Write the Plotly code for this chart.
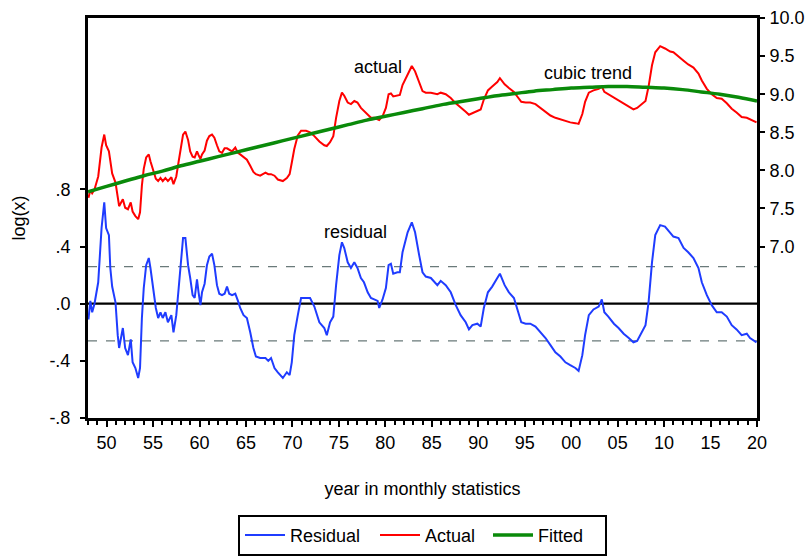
import plotly.graph_objects as go

# Monthly sample, plotted against decimal year
dates = [
    1948.05, 1948.25, 1948.45, 1948.7, 1949.1, 1949.46, 1949.75, 1949.95, 1950.25, 1950.4,
    1950.6, 1950.96, 1951.2, 1951.35, 1951.75, 1952.0, 1952.3, 1952.6, 1952.8, 1953.1,
    1953.4, 1953.6, 1953.8, 1954.0, 1954.26, 1954.54, 1954.72, 1955.07, 1955.3, 1955.55,
    1955.8, 1956.04, 1956.33, 1956.6, 1956.97, 1957.2, 1957.5, 1957.76, 1958.0, 1958.23,
    1958.48, 1958.77, 1959.0, 1959.26, 1959.48, 1959.73, 1959.9, 1960.1, 1960.27, 1960.55,
    1960.8, 1961.06, 1961.35, 1961.6, 1961.88, 1962.13, 1962.42, 1962.7, 1962.96, 1963.2,
    1963.5, 1963.85, 1964.14, 1964.38, 1964.74, 1965.1, 1965.46, 1965.8, 1966.07, 1966.53,
    1967.1, 1967.4, 1967.7, 1968.07, 1968.43, 1968.97, 1969.4, 1969.7, 1969.93, 1970.2,
    1970.58, 1970.93, 1971.47, 1971.9, 1972.36, 1972.9, 1973.43, 1973.7, 1974.05, 1974.4,
    1974.7, 1975.05, 1975.33, 1975.58, 1975.95, 1976.3, 1976.66, 1977.0, 1977.37, 1977.7,
    1978.1, 1978.45, 1978.8, 1979.17, 1979.34, 1979.7, 1980.06, 1980.35, 1980.6, 1980.85,
    1981.3, 1981.56, 1981.85, 1982.4, 1982.85, 1983.2, 1983.64, 1984.0, 1984.35, 1984.9,
    1985.6, 1985.96, 1986.5, 1987.04, 1987.58, 1988.1, 1988.65, 1989.0, 1989.37, 1989.9,
    1990.26, 1990.6, 1991.04, 1991.5, 1992.05, 1992.33, 1992.84, 1993.3, 1993.84, 1994.2,
    1994.63, 1995.1, 1995.6, 1996.16, 1996.7, 1997.24, 1997.77, 1998.3, 1998.84, 1999.38,
    1999.9, 2000.45, 2000.8, 2001.2, 2001.5, 2001.9, 2002.4, 2002.96, 2003.3, 2003.57,
    2004.0, 2004.6, 2005.1, 2005.65, 2006.2, 2006.7, 2007.1, 2007.44, 2008.0, 2008.33,
    2008.7, 2009.05, 2009.58, 2010.1, 2010.66, 2011.0, 2011.55, 2012.1, 2012.6, 2013.16,
    2013.7, 2014.06, 2014.6, 2015.13, 2015.67, 2016.2, 2016.75, 2017.28, 2017.8, 2018.35,
    2018.9, 2019.25, 2019.95,
]

# log(x), right axis
actual = [
    7.64, 7.74, 7.70, 7.75, 7.92, 8.30, 8.47, 8.33, 8.25, 8.10,
    7.96, 7.84, 7.60, 7.53, 7.62, 7.51, 7.49, 7.58, 7.46, 7.40,
    7.36, 7.45, 7.80, 8.02, 8.17, 8.21, 8.12, 7.97, 7.89, 7.86,
    7.90, 7.86, 7.90, 7.86, 7.91, 7.82, 7.92, 8.12, 8.33, 8.47,
    8.51, 8.40, 8.25, 8.18, 8.17, 8.25, 8.20, 8.15, 8.21, 8.26,
    8.39, 8.45, 8.47, 8.43, 8.33, 8.25, 8.23, 8.29, 8.29, 8.27,
    8.25, 8.30, 8.23, 8.21, 8.18, 8.14, 8.06, 7.98, 7.95, 7.93,
    7.97, 7.95, 7.95, 7.93, 7.88, 7.86, 7.90, 7.95, 8.10, 8.28,
    8.46, 8.52, 8.52, 8.50, 8.45, 8.38, 8.33, 8.32, 8.37, 8.45,
    8.69, 8.91, 9.02, 8.98, 8.89, 8.87, 8.91, 8.89, 8.82, 8.78,
    8.74, 8.69, 8.69, 8.67, 8.66, 8.71, 8.82, 9.00, 9.01, 8.97,
    8.98, 8.99, 9.12, 9.26, 9.37, 9.30, 9.15, 9.04, 9.02, 9.02,
    9.00, 9.02, 9.00, 8.95, 8.88, 8.82, 8.77, 8.73, 8.75, 8.78,
    8.80, 8.93, 9.05, 9.10, 9.16, 9.21, 9.13, 9.08, 9.03, 8.97,
    8.90, 8.89, 8.89, 8.87, 8.82, 8.77, 8.72, 8.69, 8.67, 8.65,
    8.63, 8.62, 8.61, 8.74, 8.90, 9.02, 9.05, 9.07, 9.10, 9.03,
    9.00, 8.95, 8.92, 8.88, 8.84, 8.80, 8.82, 8.85, 8.91, 9.10,
    9.38, 9.55, 9.63, 9.60, 9.56, 9.55, 9.50, 9.44, 9.39, 9.35,
    9.27, 9.18, 9.07, 9.00, 8.95, 8.94, 8.88, 8.81, 8.76, 8.70,
    8.69, 8.67, 8.63,
]

# actual minus cubic trend, left axis
residual = [
    -0.11, 0.02, -0.06, 0.00, 0.15, 0.53, 0.71, 0.53, 0.48, 0.25,
    0.12, 0.01, -0.22, -0.31, -0.17, -0.31, -0.36, -0.25, -0.41, -0.45,
    -0.52, -0.45, -0.10, 0.11, 0.27, 0.32, 0.25, 0.06, -0.03, -0.10,
    -0.06, -0.10, -0.06, -0.13, -0.08, -0.20, -0.08, 0.11, 0.32, 0.46,
    0.46, 0.27, 0.18, 0.06, 0.04, 0.17, 0.08, -0.01, 0.08, 0.14,
    0.27, 0.33, 0.35, 0.27, 0.13, 0.07, 0.06, 0.07, 0.12, 0.07,
    0.06, 0.07, 0.02, -0.03, -0.08, -0.10, -0.20, -0.31, -0.37, -0.38,
    -0.38, -0.40, -0.38, -0.45, -0.48, -0.52, -0.48, -0.50, -0.41, -0.22,
    -0.08, 0.04, 0.04, 0.04, -0.02, -0.13, -0.17, -0.22, -0.13, -0.09,
    0.13, 0.34, 0.43, 0.39, 0.29, 0.25, 0.29, 0.25, 0.18, 0.15,
    0.08, 0.04, 0.03, 0.02, -0.03, 0.03, 0.11, 0.27, 0.28, 0.21,
    0.22, 0.22, 0.36, 0.50, 0.57, 0.50, 0.34, 0.22, 0.19, 0.18,
    0.13, 0.16, 0.13, 0.08, -0.01, -0.08, -0.13, -0.18, -0.15, -0.14,
    -0.16, -0.03, 0.08, 0.12, 0.18, 0.21, 0.13, 0.08, 0.04, -0.04,
    -0.13, -0.14, -0.14, -0.16, -0.20, -0.24, -0.29, -0.34, -0.37, -0.41,
    -0.43, -0.45, -0.47, -0.36, -0.22, -0.08, -0.04, -0.02, 0.03, -0.06,
    -0.09, -0.14, -0.17, -0.21, -0.24, -0.27, -0.26, -0.22, -0.15, 0.01,
    0.29, 0.48, 0.55, 0.54, 0.50, 0.47, 0.46, 0.39, 0.36, 0.32,
    0.25, 0.15, 0.06, -0.01, -0.06, -0.06, -0.09, -0.15, -0.18, -0.22,
    -0.21, -0.24, -0.27,
]

# cubic trend, right axis
trend_dates = list(range(1948, 2021, 2))
fitted = [
    7.72, 7.79, 7.86, 7.93, 7.99, 8.06, 8.12, 8.18, 8.24, 8.30,
    8.36, 8.42, 8.48, 8.54, 8.60, 8.66, 8.71, 8.76, 8.81, 8.86,
    8.90, 8.94, 8.98, 9.01, 9.04, 9.06, 9.08, 9.09, 9.10, 9.10,
    9.09, 9.08, 9.06, 9.03, 9.00, 8.96, 8.91,
]

# one standard error band of the residual
resid_se = 0.26

year_ticks = list(range(1950, 2021, 5))
year_labels = [f"{y % 100:02d}" for y in year_ticks]
left_ticks = [-0.8, -0.4, 0.0, 0.4, 0.8]
left_labels = ["-.8", "-.4", ".0", ".4", ".8"]
right_ticks = [7.0, 7.5, 8.0, 8.5, 9.0, 9.5, 10.0]
right_labels = ["7.0", "7.5", "8.0", "8.5", "9.0", "9.5", "10.0"]

FONT = "Liberation Sans, Arial, Helvetica, sans-serif"
FS = 18

fig = go.Figure()
fig.add_trace(go.Scatter(x=dates, y=residual, name="Residual", mode="lines",
                         line=dict(color="#1f3cff", width=2), yaxis="y", legendwidth=80))
fig.add_trace(go.Scatter(x=dates, y=actual, name="Actual", mode="lines",
                         line=dict(color="#ff0000", width=2), yaxis="y2", legendwidth=58))
fig.add_trace(go.Scatter(x=trend_dates, y=fitted, name="Fitted", mode="lines",
                         line=dict(color="#0a8a0a", width=3.5, shape="spline"), yaxis="y2",
                         legendwidth=62))

# zero line and +/- one standard error
fig.add_shape(type="line", xref="paper", x0=0, x1=1, yref="y", y0=0, y1=0,
              line=dict(color="black", width=2.2), layer="below")
for lvl in (resid_se, -resid_se):
    fig.add_shape(type="line", xref="paper", x0=0, x1=1, yref="y", y0=lvl, y1=lvl,
                  line=dict(color="#6a7a7a", width=1.2, dash="dash"), layer="below")

ann_font = dict(family=FONT, size=FS, color="black")
fig.add_annotation(x=1979.2, y=9.36, yref="y2", text="actual", showarrow=False, font=ann_font)
fig.add_annotation(x=2001.85, y=9.28, yref="y2", text="cubic trend", showarrow=False, font=ann_font)
fig.add_annotation(x=1976.84, y=0.50, yref="y", text="residual", showarrow=False, font=ann_font)

axis_common = dict(showline=True, linecolor="black", linewidth=3, showgrid=False,
                   zeroline=False, ticks="outside", tickcolor="black", tickwidth=1.5,
                   automargin=False,
                   tickfont=dict(family=FONT, size=FS, color="black"))

fig.update_layout(
    width=809, height=557,
    margin=dict(l=88, r=52, t=18, b=139),
    paper_bgcolor="white", plot_bgcolor="white",
    font=dict(family=FONT, size=FS, color="black"),
    xaxis=dict(range=[1948, 2020], tickmode="array", tickvals=year_ticks, ticktext=year_labels,
               mirror=True, ticklen=6, ticklabelstandoff=0,
               minor=dict(tickmode="linear", tick0=1948, dtick=1, ticks="outside",
                          ticklen=4, tickwidth=1.5, tickcolor="black", showgrid=False),
               title=dict(text="year in monthly statistics", standoff=31,
                          font=dict(family=FONT, size=FS, color="black")),
               **axis_common),
    yaxis=dict(range=[-0.8, 2.0], tickmode="array", tickvals=left_ticks, ticktext=left_labels,
               ticklen=5, ticklabelstandoff=6,
               title=dict(text="log(x)", standoff=20,
                          font=dict(family=FONT, size=FS, color="black")),
               **axis_common),
    yaxis2=dict(range=[4.75, 10.0], tickmode="array", tickvals=right_ticks, ticktext=right_labels,
                overlaying="y", side="right", ticklen=5, ticklabelstandoff=1, **axis_common),
    showlegend=True,
    legend=dict(orientation="h", x=0.5, xanchor="center", yref="container", y=0.002,
                yanchor="bottom", bordercolor="black", borderwidth=2, bgcolor="white",
                font=dict(family=FONT, size=FS, color="black"),
                itemwidth=40, tracegroupgap=0, entrywidthmode="pixels"),
)

fig.write_html("out.html")
